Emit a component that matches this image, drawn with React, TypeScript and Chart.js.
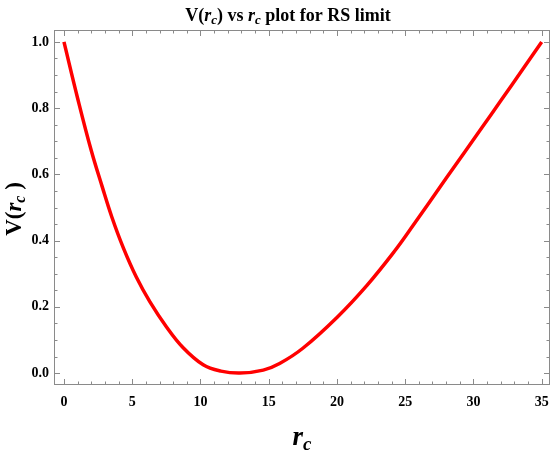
import React, { useEffect, useRef } from "react";
import { Chart, registerables } from "chart.js";

Chart.register(...registerables);

// r_c values
const rValues = [0, 1, 2, 2.8, 3.5, 4.35, 5.3, 6.3, 7.5, 8.7, 10.2, 11.5, 12.9, 14.6, 15.8, 17.5, 20, 22.2, 24.2, 25.6, 28, 30.6, 32, 33.6, 35];
// V(r_c) values
const vValues = [1.0, 0.83, 0.672, 0.563, 0.472, 0.378, 0.29, 0.215, 0.14, 0.078, 0.025, 0.006, 0.0, 0.009, 0.029, 0.075, 0.168, 0.265, 0.367, 0.447, 0.588, 0.74, 0.822, 0.917, 1.0];

const xMajorTicks = [0, 5, 10, 15, 20, 25, 30, 35];
const yMajorTicks = [0, 0.2, 0.4, 0.6, 0.8, 1.0];
const xMinorStep = 1;
const yMinorStep = 0.05;

const SERIF = '"Liberation Serif", "Times New Roman", serif';

type Part = { text: string; font: string; dy: number };

function drawRich(ctx: CanvasRenderingContext2D, parts: Part[], cx: number, baseline: number) {
  let total = 0;
  const widths = parts.map((p) => {
    ctx.font = p.font;
    const w = ctx.measureText(p.text).width;
    total += w;
    return w;
  });
  let x = cx - total / 2;
  ctx.textAlign = "left";
  ctx.textBaseline = "alphabetic";
  parts.forEach((p, i) => {
    ctx.font = p.font;
    ctx.fillText(p.text, x, baseline + p.dy);
    x += widths[i];
  });
}

const framePlugin = {
  id: "frameTicks",
  beforeDatasetsDraw(chart: any) {
    const { ctx, chartArea, scales } = chart;
    const { left, right, top, bottom } = chartArea;
    const xs = scales.x;
    const ys = scales.y;
    ctx.save();
    ctx.strokeStyle = "#8a8a8a";
    ctx.lineWidth = 1;
    ctx.strokeRect(left + 0.5, top + 0.5, right - left - 1, bottom - top - 1);
    ctx.beginPath();
    for (let i = 0; i <= 35; i += xMinorStep) {
      const px = Math.round(xs.getPixelForValue(i)) + 0.5;
      const len = xMajorTicks.includes(i) ? 6 : 3.5;
      ctx.moveTo(px, bottom);
      ctx.lineTo(px, bottom - len);
      ctx.moveTo(px, top);
      ctx.lineTo(px, top + len);
    }
    for (let k = 0; k <= 20; k++) {
      const v = k * yMinorStep;
      const py = Math.round(ys.getPixelForValue(v)) + 0.5;
      const len = k % 4 === 0 ? 6 : 3.5;
      ctx.moveTo(left, py);
      ctx.lineTo(left + len, py);
      ctx.moveTo(right, py);
      ctx.lineTo(right - len, py);
    }
    ctx.stroke();
    ctx.restore();
  },
  afterDraw(chart: any) {
    const { ctx, chartArea } = chart;
    ctx.save();
    ctx.fillStyle = "#000";
    // Title
    drawRich(
      ctx,
      [
        { text: "V(", font: `bold 18px ${SERIF}`, dy: 0 },
        { text: "r", font: `italic bold 18px ${SERIF}`, dy: 0 },
        { text: "c", font: `italic bold 13px ${SERIF}`, dy: 3 },
        { text: ") vs ", font: `bold 18px ${SERIF}`, dy: 0 },
        { text: "r", font: `italic bold 18px ${SERIF}`, dy: 0 },
        { text: "c", font: `italic bold 13px ${SERIF}`, dy: 3 },
        { text: " plot for RS limit", font: `bold 18px ${SERIF}`, dy: 0 },
      ],
      288,
      21
    );
    // X label
    drawRich(
      ctx,
      [
        { text: "r", font: `italic bold 27px ${SERIF}`, dy: 0 },
        { text: "c", font: `italic bold 19px ${SERIF}`, dy: 5 },
      ],
      (chartArea.left + chartArea.right) / 2,
      445
    );
    // Y label (rotated)
    ctx.translate(21, 209);
    ctx.rotate(-Math.PI / 2);
    drawRich(
      ctx,
      [
        { text: "V(", font: `bold 23px ${SERIF}`, dy: 0 },
        { text: "r", font: `italic bold 23px ${SERIF}`, dy: 0 },
        { text: "c", font: `italic bold 16px ${SERIF}`, dy: 4 },
        { text: " )", font: `bold 23px ${SERIF}`, dy: 0 },
      ],
      0,
      0
    );
    ctx.restore();
  },
};

export default function App() {
  const canvasRef = useRef<HTMLCanvasElement | null>(null);

  useEffect(() => {
    document.body.style.margin = "0";
    const canvas = canvasRef.current;
    if (!canvas) return;
    const chart = new Chart(canvas, {
      type: "line",
      data: {
        datasets: [
          {
            data: rValues.map((r, i) => ({ x: r, y: vValues[i] })),
            borderColor: "#ff0000",
            borderWidth: 3.5,
            pointRadius: 0,
            fill: false,
            tension: 0.4,
            borderCapStyle: "butt",
            borderJoinStyle: "round",
          },
        ],
      },
      options: {
        responsive: false,
        animation: false,
        devicePixelRatio: 1,
        layout: { padding: { left: 8, top: 30, right: 1, bottom: 0 } },
        plugins: {
          legend: { display: false },
          title: { display: false },
          tooltip: { enabled: false },
        },
        scales: {
          x: {
            type: "linear",
            min: -0.73,
            max: 35.61,
            grid: { display: false, drawTicks: false },
            border: { display: false },
            afterFit: (s: any) => {
              s.height = 67;
              s.paddingLeft = 0;
              s.paddingRight = 0;
            },
            afterBuildTicks: (s: any) => {
              s.ticks = xMajorTicks.map((v) => ({ value: v }));
            },
            ticks: {
              includeBounds: false,
              padding: 9,
              color: "#000",
              font: { family: SERIF, size: 14, weight: "bold" },
              callback: (v: any) => String(v),
            },
          },
          y: {
            type: "linear",
            min: -0.036,
            max: 1.036,
            grid: { display: false, drawTicks: false },
            border: { display: false },
            afterFit: (s: any) => {
              s.width = 46;
              s.paddingTop = 0;
              s.paddingBottom = 0;
            },
            afterBuildTicks: (s: any) => {
              s.ticks = yMajorTicks.map((v) => ({ value: v }));
            },
            ticks: {
              includeBounds: false,
              padding: 5,
              color: "#000",
              font: { family: SERIF, size: 14, weight: "bold" },
              callback: (v: any) => Number(v).toFixed(1),
            },
          },
        },
      },
      plugins: [framePlugin],
    } as any);
    return () => chart.destroy();
  }, []);

  return (
    <div style={{ width: 551, height: 452 }}>
      <canvas ref={canvasRef} width={551} height={452} style={{ display: "block" }} />
    </div>
  );
}
